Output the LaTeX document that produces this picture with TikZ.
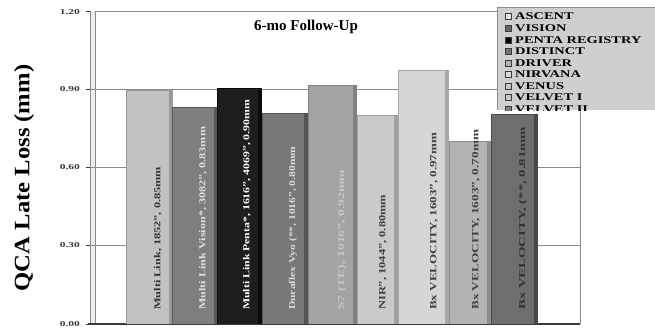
\documentclass[tikz,border=0pt]{standalone}
\usepackage{graphicx}
\usepackage{fontspec}
\setmainfont{Liberation Serif}
\definecolor{gridc}{HTML}{8A8A8A}
\definecolor{axisc}{HTML}{3A3A3A}
\definecolor{legfill}{HTML}{CFCFCF}
\definecolor{bA}{HTML}{C2C2C2}\definecolor{sA}{HTML}{9A9A9A}
\definecolor{bB}{HTML}{7E7E7E}\definecolor{sB}{HTML}{5A5A5A}
\definecolor{bC}{HTML}{1E1E1E}\definecolor{sC}{HTML}{0A0A0A}
\definecolor{bD}{HTML}{787878}\definecolor{sD}{HTML}{555555}
\definecolor{bE}{HTML}{A4A4A4}\definecolor{sE}{HTML}{808080}
\definecolor{bF}{HTML}{CACACA}\definecolor{sF}{HTML}{A0A0A0}
\definecolor{bG}{HTML}{D6D6D6}\definecolor{sG}{HTML}{A8A8A8}
\definecolor{bH}{HTML}{B4B4B4}\definecolor{sH}{HTML}{8C8C8C}
\definecolor{bI}{HTML}{6E6E6E}\definecolor{sI}{HTML}{4A4A4A}
\newcommand\mybar[9]{%
  \fill[#5] (#2,324) rectangle (#3,#4);
  \fill[#6] (#3-3,324) rectangle (#3,#4);
  \draw[#6, line width=0.8pt] (#2,324) -- (#2,#4) -- (#3,#4) -- (#3,324);
  \node[rotate=90, anchor=west, inner sep=0pt, text=#7] (#1) at (#3-14,310)
    {\resizebox{#8pt}{6.3pt}{\bfseries #9}};
}
\newcommand\legitem[4]{%
  \node[draw=axisc, fill=#3, minimum size=6pt, inner sep=0pt, line width=0.5pt] (#1m) at (508,#2) {};
  \node[anchor=west, inner sep=0pt, font=\bfseries\fontsize{10.3}{10.3}\selectfont] (#1t) at (515,#2) {\scalebox{1.4}[1]{#4}};
}
\begin{document}
\begin{tikzpicture}[x=1pt,y=-1pt]
\useasboundingbox (0,0) rectangle (655,333);
\fill[white] (0,0) rectangle (655,333);
% plot frame
\fill[gray!15] (90,11) rectangle (95,324);
\draw[gridc, line width=0.6pt] (90,11) -- (90,324);
\draw[gridc, line width=0.6pt] (95,11) -- (95,324);
\draw[gridc, line width=0.6pt] (95,11) -- (580,11) -- (580,324);
\foreach \yy in {89,167,245} {\draw[gridc, line width=0.6pt] (90,\yy) -- (580,\yy);}
\foreach \yy in {11,89,167,245,324} {\draw[axisc, line width=0.6pt] (86,\yy) -- (90,\yy);}
\draw[axisc, line width=1.2pt] (88,324) -- (580,324);
% tick labels
\foreach \yy/\lab in {12/1.20,89/0.90,167/0.60,245/0.30,324/0.00}
  {\node[anchor=east, inner sep=0pt, text=axisc] (t\lab) at (80,\yy) {\resizebox{20pt}{5pt}{\bfseries\lab}};}
% axis title
\node[rotate=90, inner sep=0pt, font=\bfseries\fontsize{22}{22}\selectfont] (ylab) at (24,178) {\scalebox{1.12}[1]{QCA Late Loss (mm)}};
% chart title
\node[inner sep=0pt, font=\bfseries\fontsize{15}{15}\selectfont] (title) at (306,27) {6-mo Follow-Up};
% bars
\mybar{b1}{126}{172}{90}{bA}{sA}{black!80}{143}{Multi Link, 1852", 0.85mm}
\mybar{b2}{172}{217}{107}{bB}{sB}{white!88!black}{183}{Multi Link Vision*, 3082", 0.83mm}
\mybar{b3}{217}{261}{88}{bC}{sC}{white}{210}{Multi Link Penta*, 1616", 4069", 0.90mm}
\mybar{b4}{262}{307}{113}{bD}{sD}{white!85!black}{163}{Duraflex Vyo (**, 1016", 0.80mm}
\mybar{b5}{308}{356}{85}{bE}{sE}{white!78!black}{140}{S7 (TE), 1016", 0.92mm}
\mybar{b6}{357}{397}{115}{bF}{sF}{black!75}{115}{NIR", 1044", 0.80mm}
\mybar{b7}{398}{448}{70}{bG}{sG}{black!75}{177}{Bx VELOCITY, 1603", 0.97mm}
\mybar{b8}{449}{490}{141}{bH}{sH}{black!75}{180}{Bx VELOCITY, 1603", 0.70mm}
\mybar{b9}{491}{537}{114}{bI}{sI}{black!80}{183}{Bx VELOCITY, (**, 0.81mm}
% legend
\begin{scope}
\clip (497,7) rectangle (655,110);
\fill[legfill] (497,7) rectangle (655,110);
\draw[gridc, line width=0.6pt] (497.3,110) -- (497.3,7.3) -- (655,7.3);
\legitem{l1}{16}{white!90!black}{ASCENT}
\legitem{l2}{28}{gray!80!black}{VISION}
\legitem{l3}{40}{black}{PENTA REGISTRY}
\legitem{l4}{51.5}{gray!90!black}{DISTINCT}
\legitem{l5}{63}{white!70!black}{DRIVER}
\legitem{l6}{74.5}{white!85!black}{NIRVANA}
\legitem{l7}{86}{white!78!black}{VENUS}
\legitem{l8}{97.5}{white!78!black}{VELVET I}
\legitem{l9}{109}{gray}{VELVET II}
\end{scope}
\end{tikzpicture}
\end{document}
